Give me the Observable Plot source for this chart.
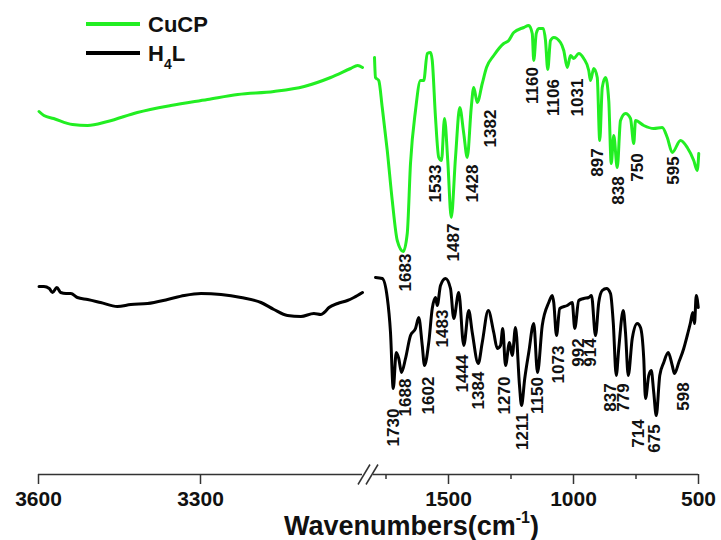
<!DOCTYPE html>
<html><head><meta charset="utf-8">
<script src="https://cdn.jsdelivr.net/npm/d3@7"></script>
<script src="https://cdn.jsdelivr.net/npm/@observablehq/plot@0.6"></script>
<style>body{margin:0;background:#fff} svg{display:block}</style>
</head><body><div id="chart"></div>
<script>
// ---- Data: wavenumber (cm-1) and transmittance (a.u.) ----
const greenLeftW = [3599,3590,3572,3537,3509,3472,3417,3355,3287,3231,3164,3108,3059,3022,3009,3000];
const greenLeftT = [363,359,356,350,349,353,362,369,375,380,383,388,397,406,409,407];
const greenRightW = [1796,1792,1779,1765,1745,1725,1705,1681,1665,1652,1632,1612,1599,1585,1572,1565,1552,1539,1528,1516,1503,1489,1472,1455,1439,1425,1409,1399,1385,1365,1348,1319,1279,1259,1239,1199,1179,1165,1159,1149,1139,1121,1112,1103,1092,1079,1052,1039,1025,1012,999,979,959,939,932,919,905,895,885,872,859,849,839,825,812,792,772,759,752,719,679,645,625,605,572,545,519,505,499];
const greenRightT = [417,397,394,367,324,274,234,223,241,311,364,394,394,421,422,414,357,317,314,356,314,257,317,367,341,317,367,387,372,391,407,419,431,434,442,447,449,441,414,441,446,446,434,405,434,437,432,424,407,419,416,421,416,404,394,406,397,334,387,397,374,311,339,307,354,361,356,331,354,349,346,347,337,322,334,327,314,304,321];

const blackLeftW = [3599,3590,3580,3574,3566,3559,3549,3540,3528,3509,3485,3454,3429,3398,3361,3330,3299,3262,3225,3188,3164,3139,3114,3090,3077,3071,3062,3046,3028,3016,3000];
const blackLeftT = [188,188,186,182,187,182,181,181,177,175,172,168,170,171,175,179,181,180,177,172,165,159,158,161,160,162,167,171,174,177,182];
const blackRightW = [1792,1765,1745,1732,1721,1709,1699,1688,1672,1652,1632,1619,1605,1596,1579,1565,1552,1545,1532,1512,1492,1479,1459,1439,1419,1405,1381,1365,1341,1319,1305,1292,1283,1272,1256,1245,1232,1216,1208,1195,1179,1159,1144,1125,1099,1085,1079,1068,1055,1025,1005,995,979,959,939,928,912,899,885,868,852,841,829,819,801,792,781,765,745,732,719,712,699,689,679,669,655,639,621,605,596,579,559,545,532,523,516,509,501];
const blackRightT = [197,196,177,142,86,122,116,102,116,139,146,157,129,109,132,166,177,169,189,196,186,156,182,129,164,142,111,132,164,142,126,129,146,109,132,119,147,89,69,96,122,151,102,149,172,179,172,139,166,169,172,146,174,176,177,179,139,172,184,186,181,152,99,126,164,142,99,136,151,147,116,76,99,104,82,59,99,112,122,109,101,112,126,139,152,162,151,179,167];

// peak annotations: label text, anchor wavenumber, anchor level (a.u.)
const greenPeakLabels = ["1683","1533","1487","1428","1382","1160","1106","1031","897","838","750","595"];
const greenPeakAt    = [1672,1552,1480,1405,1332,1165,1081,985,903,819,745,599];
const greenPeakLevel = [202,291,232,291,346,389,377,377,312,284,307,304];

const blackPeakLabels = ["1730","1688","1602","1483","1444","1384","1270","1211","1150","1073","992","914","837","779","714","675","598"];
const blackPeakAt    = [1719,1670,1579,1525,1445,1379,1276,1203,1145,1059,979,932,852,799,739,676,559];
const blackPeakLevel = [47,77,79,146,101,84,79,43,79,110,122,122,77,77,41,36,78];

const majorTicks = [3600,3300,1500,1000,500];
const minorTicks = [1750,1250,750];
const seriesNames = ["CuCP","H4L"];
const xTitle = "Wavenumbers(cm-1)";

// ---- broken axis mapping ----
const leftSeg = {from:3600, to:3000, span:324};
const gap = 11;
const rightSeg = {from:1800, to:500, span:325};
function brk(w){
  if (w >= 2400) return (leftSeg.from - w) / (leftSeg.from - leftSeg.to) * leftSeg.span;
  return leftSeg.span + gap + (rightSeg.from - w) / (rightSeg.from - rightSeg.to) * rightSeg.span;
}
const total = leftSeg.span + gap + rightSeg.span;

const rows = (W, T, s, seg) => W.map((w,i)=>({w, t:T[i], s, seg}));
const lineData = [
  ...rows(greenLeftW, greenLeftT, seriesNames[0], "L"),
  ...rows(greenRightW, greenRightT, seriesNames[0], "R"),
  ...rows(blackLeftW, blackLeftT, seriesNames[1], "L"),
  ...rows(blackRightW, blackRightT, seriesNames[1], "R")
];
const labRows = (L, A, V, s) => L.map((t,i)=>({t, at:A[i], v:V[i], s}));
const peakData = [
  ...labRows(greenPeakLabels, greenPeakAt, greenPeakLevel, seriesNames[0]),
  ...labRows(blackPeakLabels, blackPeakAt, blackPeakLevel, seriesNames[1])
];

const GREEN = "#22ee22", BLACK = "#000";
const FONT = "'Liberation Sans', Arial, Helvetica, sans-serif";
const gapCenter = (brk(leftSeg.to) + brk(rightSeg.from)) / 2;
const majorU = majorTicks.map(brk);
const tickLabel = new Map(majorTicks.map(t => [brk(t), String(t)]));

const chart = Plot.plot({
  width: 721, height: 540,
  marginLeft: 38, marginRight: 23, marginTop: 0, marginBottom: 66,
  style: {fontFamily: FONT, background: "#fff", color: "#000"},
  x: {type: "linear", domain: [0, total], axis: null},
  y: {type: "linear", domain: [0, 474], axis: null},
  marks: [
    Plot.ruleY([0], {x1: brk(leftSeg.from), x2: brk(leftSeg.to), stroke: "#333", strokeWidth: 1.5}),
    Plot.ruleY([0], {x1: brk(rightSeg.from), x2: brk(rightSeg.to), stroke: "#333", strokeWidth: 1.5}),
    Plot.link([gapCenter - 4, gapCenter + 4], {x1: d => d - 6, x2: d => d + 6, y1: -10, y2: 10, stroke: "#333", strokeWidth: 1.5}),
    Plot.axisX(majorU, {tickSize: 10, tickPadding: 7, tickFormat: u => tickLabel.get(u), fontSize: 21, fontWeight: "bold", stroke: "#333", strokeWidth: 1.5, fill: "#111"}),
    Plot.axisX(minorTicks.map(brk), {tickSize: 5, tickFormat: () => "", stroke: "#333", strokeWidth: 1.5}),
    Plot.text([xTitle], {frameAnchor: "bottom", dx: 43, dy: 60, lineAnchor: "bottom", fontSize: 27, fontWeight: "bold", fill: "#111", className: "xtitle"}),
    Plot.line(lineData, {x: d => brk(d.w), y: "t", z: d => d.s + d.seg, stroke: d => d.s === seriesNames[0] ? GREEN : BLACK, strokeWidth: 3, strokeLinejoin: "round", strokeLinecap: "round", curve: "monotone-x"}),
    Plot.text(peakData, {x: d => brk(d.at), y: "v", text: "t", rotate: -90, fontSize: 17, fontWeight: "bold", fill: "#111"})
  ]
});
document.getElementById("chart").appendChild(chart);

const svg = d3.select(chart);
svg.selectAll("g.xtitle text").each(function(){
  const t = d3.select(this);
  t.text(null);
  t.append("tspan").text("Wavenumbers(cm");
  t.append("tspan").attr("font-size", "16px").attr("dy", "-0.75em").text("-1");
  t.append("tspan").attr("dy", "0.45em").text(")");
});

// legend
const lg = svg.append("g").attr("font-family", FONT).attr("font-weight", "bold").attr("fill", "#111").attr("text-anchor", "start");
const legendItems = [{name: seriesNames[0], color: GREEN, y: 24}, {name: seriesNames[1], color: BLACK, y: 53}];
legendItems.forEach(it => {
  lg.append("line").attr("x1", 86).attr("x2", 140).attr("y1", it.y).attr("y2", it.y).attr("stroke", it.color).attr("stroke-width", 4);
  const tx = lg.append("text").attr("x", 148).attr("y", it.y + 8).attr("font-size", "22px").attr("text-anchor", "start");
  if (it.name === "H4L") {
    tx.append("tspan").text("H");
    tx.append("tspan").attr("font-size", "14px").attr("dy", "8").text("4");
    tx.append("tspan").attr("dy", "-8").text("L");
  } else tx.text(it.name);
});
</script>
</body></html>
